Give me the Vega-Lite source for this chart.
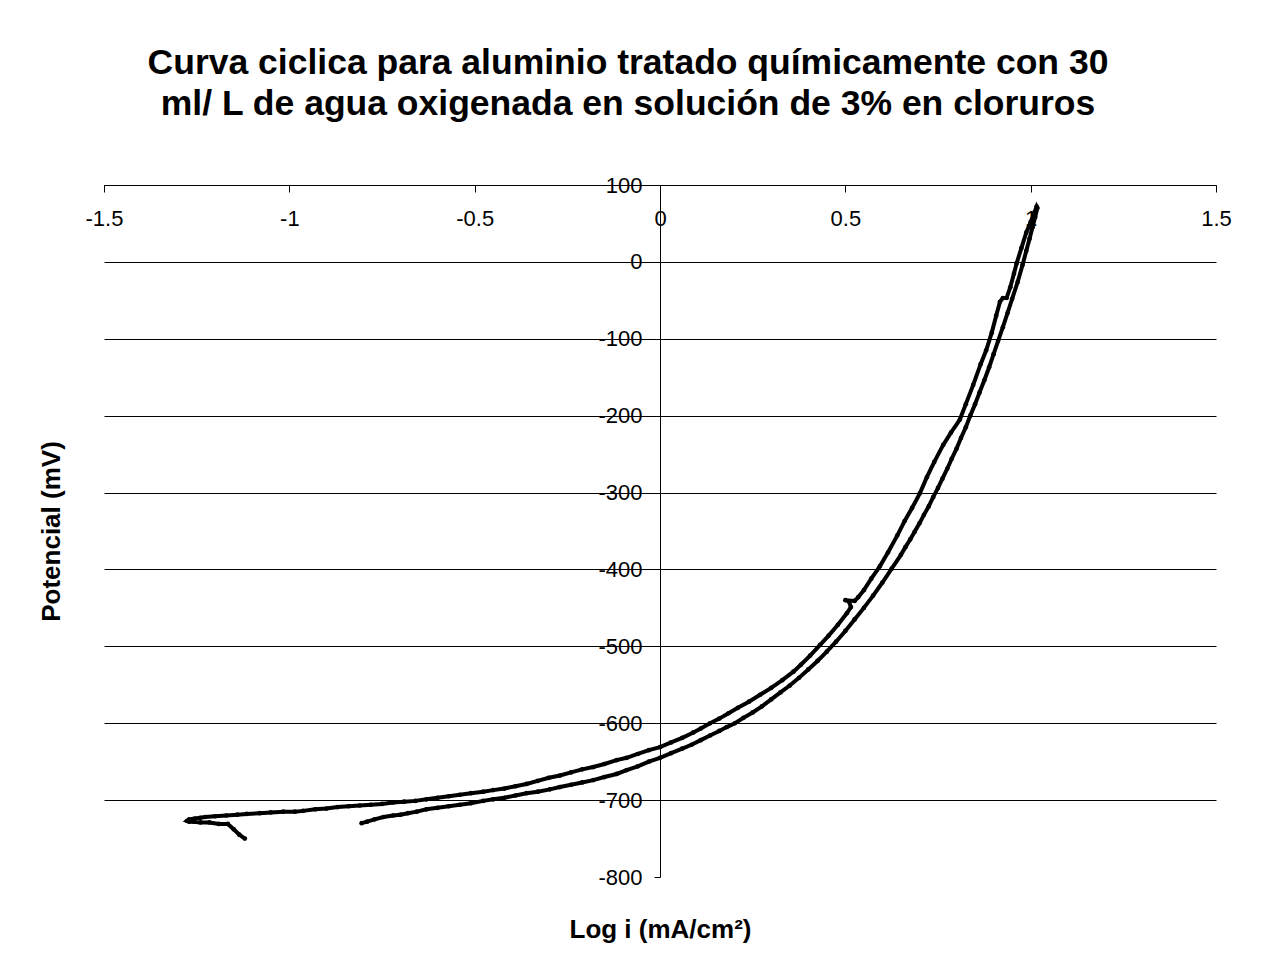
{
  "$schema": "https://vega.github.io/schema/vega-lite/v6.json",
  "autosize": {"type": "none"},
  "padding": {"left": 104, "top": 185, "right": 48, "bottom": 92},
  "width": 1112,
  "height": 692,
  "background": "white",
  "title": {
    "text": ["Curva ciclica para aluminio tratado químicamente con 30", "ml/ L de agua oxigenada en solución de 3% en cloruros"],
    "font": "Liberation Sans",
    "fontSize": 35.5,
    "fontWeight": "bold",
    "color": "black",
    "lineHeight": 41,
    "anchor": "middle",
    "frame": "group",
    "dx": -32,
    "offset": 52
  },
  "config": {
    "view": {"stroke": null},
    "axis": {"labelFont": "Liberation Sans", "titleFont": "Liberation Sans", "labelColor": "black", "titleColor": "black"}
  },
  "data": {"values": [
    {"i":1,"x":-1.12,"y":-750},{"i":2,"x":-1.135,"y":-745},{"i":3,"x":-1.15,"y":-738},{"i":4,"x":-1.166,"y":-731},
    {"i":5,"x":-1.19,"y":-731},{"i":6,"x":-1.216,"y":-729},{"i":7,"x":-1.24,"y":-729},{"i":8,"x":-1.258,"y":-728},
    {"i":9,"x":-1.27,"y":-728},{"i":10,"x":-1.276,"y":-727},{"i":11,"x":-1.27,"y":-725},{"i":12,"x":-1.255,"y":-724},
    {"i":13,"x":-1.24,"y":-723},{"i":14,"x":-1.227,"y":-722},{"i":15,"x":-1.2,"y":-721},{"i":16,"x":-1.17,"y":-720},
    {"i":17,"x":-1.14,"y":-719},{"i":18,"x":-1.115,"y":-718},{"i":19,"x":-1.08,"y":-717},{"i":20,"x":-1.05,"y":-716},
    {"i":21,"x":-1.016,"y":-715},{"i":22,"x":-0.985,"y":-715},{"i":23,"x":-0.963,"y":-714},{"i":24,"x":-0.93,"y":-712},
    {"i":25,"x":-0.9,"y":-711},{"i":26,"x":-0.87,"y":-709},{"i":27,"x":-0.84,"y":-708},{"i":28,"x":-0.81,"y":-707},
    {"i":29,"x":-0.78,"y":-706},{"i":30,"x":-0.75,"y":-705},{"i":31,"x":-0.72,"y":-703},{"i":32,"x":-0.69,"y":-702},
    {"i":33,"x":-0.66,"y":-701},{"i":34,"x":-0.63,"y":-699},{"i":35,"x":-0.6,"y":-697},{"i":36,"x":-0.57,"y":-695},
    {"i":37,"x":-0.54,"y":-693},{"i":38,"x":-0.51,"y":-691},{"i":39,"x":-0.477,"y":-689},{"i":40,"x":-0.45,"y":-687},
    {"i":41,"x":-0.42,"y":-685},{"i":42,"x":-0.39,"y":-682},{"i":43,"x":-0.36,"y":-679},{"i":44,"x":-0.33,"y":-675},
    {"i":45,"x":-0.3,"y":-671},{"i":46,"x":-0.27,"y":-668},{"i":47,"x":-0.24,"y":-664},{"i":48,"x":-0.21,"y":-660},
    {"i":49,"x":-0.18,"y":-657},{"i":50,"x":-0.15,"y":-653},{"i":51,"x":-0.117,"y":-648},{"i":52,"x":-0.09,"y":-645},
    {"i":53,"x":-0.06,"y":-640},{"i":54,"x":-0.03,"y":-635},{"i":55,"x":0.0,"y":-631},{"i":56,"x":0.03,"y":-625},
    {"i":57,"x":0.06,"y":-619},{"i":58,"x":0.09,"y":-612},{"i":59,"x":0.11,"y":-607},{"i":60,"x":0.135,"y":-600},
    {"i":61,"x":0.16,"y":-594},{"i":62,"x":0.185,"y":-587},{"i":63,"x":0.21,"y":-580},{"i":64,"x":0.24,"y":-572},
    {"i":65,"x":0.27,"y":-563},{"i":66,"x":0.3,"y":-554},{"i":67,"x":0.33,"y":-544},{"i":68,"x":0.36,"y":-533},
    {"i":69,"x":0.38,"y":-524},{"i":70,"x":0.405,"y":-512},{"i":71,"x":0.432,"y":-498},{"i":72,"x":0.455,"y":-486},
    {"i":73,"x":0.48,"y":-472},{"i":74,"x":0.504,"y":-457},{"i":75,"x":0.515,"y":-449},{"i":76,"x":0.51,"y":-442},
    {"i":77,"x":0.5,"y":-440},{"i":78,"x":0.525,"y":-441},{"i":79,"x":0.535,"y":-436},{"i":80,"x":0.55,"y":-427},
    {"i":81,"x":0.57,"y":-412},{"i":82,"x":0.593,"y":-396},{"i":83,"x":0.615,"y":-378},{"i":84,"x":0.64,"y":-356},
    {"i":85,"x":0.66,"y":-337},{"i":86,"x":0.68,"y":-320},{"i":87,"x":0.701,"y":-301},{"i":88,"x":0.72,"y":-280},
    {"i":89,"x":0.74,"y":-260},{"i":90,"x":0.764,"y":-238},{"i":91,"x":0.785,"y":-222},{"i":92,"x":0.809,"y":-205},
    {"i":93,"x":0.825,"y":-185},{"i":94,"x":0.845,"y":-160},{"i":95,"x":0.865,"y":-133},{"i":96,"x":0.88,"y":-115},
    {"i":97,"x":0.895,"y":-92},{"i":98,"x":0.907,"y":-70},{"i":99,"x":0.917,"y":-52},{"i":100,"x":0.925,"y":-47},
    {"i":101,"x":0.935,"y":-47},{"i":102,"x":0.945,"y":-33},{"i":103,"x":0.955,"y":-15},{"i":104,"x":0.962,"y":-2},
    {"i":105,"x":0.975,"y":18},{"i":106,"x":0.988,"y":38},{"i":107,"x":1.0,"y":52},{"i":108,"x":1.01,"y":64},
    {"i":109,"x":1.016,"y":72},{"i":110,"x":1.018,"y":70},{"i":111,"x":1.012,"y":58},{"i":112,"x":1.005,"y":45},
    {"i":113,"x":0.997,"y":30},{"i":114,"x":0.988,"y":14},{"i":115,"x":0.978,"y":-4},{"i":116,"x":0.965,"y":-26},
    {"i":117,"x":0.95,"y":-48},{"i":118,"x":0.938,"y":-66},{"i":119,"x":0.925,"y":-85},{"i":120,"x":0.912,"y":-103},
    {"i":121,"x":0.9,"y":-120},{"i":122,"x":0.888,"y":-137},{"i":123,"x":0.875,"y":-154},{"i":124,"x":0.862,"y":-170},
    {"i":125,"x":0.85,"y":-185},{"i":126,"x":0.837,"y":-200},{"i":127,"x":0.825,"y":-215},{"i":128,"x":0.812,"y":-229},
    {"i":129,"x":0.8,"y":-243},{"i":130,"x":0.787,"y":-256},{"i":131,"x":0.775,"y":-269},{"i":132,"x":0.762,"y":-282},
    {"i":133,"x":0.75,"y":-294},{"i":134,"x":0.737,"y":-306},{"i":135,"x":0.725,"y":-318},{"i":136,"x":0.712,"y":-329},
    {"i":137,"x":0.7,"y":-340},{"i":138,"x":0.687,"y":-351},{"i":139,"x":0.675,"y":-361},{"i":140,"x":0.662,"y":-371},
    {"i":141,"x":0.65,"y":-381},{"i":142,"x":0.625,"y":-399},{"i":143,"x":0.6,"y":-417},{"i":144,"x":0.575,"y":-434},
    {"i":145,"x":0.55,"y":-450},{"i":146,"x":0.525,"y":-465},{"i":147,"x":0.5,"y":-480},{"i":148,"x":0.475,"y":-494},
    {"i":149,"x":0.45,"y":-507},{"i":150,"x":0.425,"y":-519},{"i":151,"x":0.4,"y":-530},{"i":152,"x":0.375,"y":-541},
    {"i":153,"x":0.35,"y":-551},{"i":154,"x":0.325,"y":-560},{"i":155,"x":0.3,"y":-569},{"i":156,"x":0.275,"y":-578},
    {"i":157,"x":0.25,"y":-586},{"i":158,"x":0.225,"y":-593},{"i":159,"x":0.202,"y":-600},{"i":160,"x":0.18,"y":-605},
    {"i":161,"x":0.16,"y":-610},{"i":162,"x":0.135,"y":-616},{"i":163,"x":0.11,"y":-622},{"i":164,"x":0.085,"y":-628},
    {"i":165,"x":0.06,"y":-633},{"i":166,"x":0.03,"y":-639},{"i":167,"x":0.0,"y":-645},
    {"i":168,"x":-0.03,"y":-650},{"i":169,"x":-0.06,"y":-656},{"i":170,"x":-0.09,"y":-661},{"i":171,"x":-0.117,"y":-666},
    {"i":172,"x":-0.15,"y":-670},{"i":173,"x":-0.18,"y":-674},{"i":174,"x":-0.21,"y":-677},{"i":175,"x":-0.24,"y":-680},
    {"i":176,"x":-0.27,"y":-683},{"i":177,"x":-0.297,"y":-686},{"i":178,"x":-0.33,"y":-689},{"i":179,"x":-0.36,"y":-691},
    {"i":180,"x":-0.39,"y":-694},{"i":181,"x":-0.42,"y":-697},{"i":182,"x":-0.45,"y":-699},{"i":183,"x":-0.477,"y":-701},
    {"i":184,"x":-0.51,"y":-704},{"i":185,"x":-0.54,"y":-706},{"i":186,"x":-0.57,"y":-708},{"i":187,"x":-0.6,"y":-710},
    {"i":188,"x":-0.63,"y":-712},{"i":189,"x":-0.656,"y":-715},{"i":190,"x":-0.68,"y":-717},{"i":191,"x":-0.7,"y":-719},
    {"i":192,"x":-0.72,"y":-720},{"i":193,"x":-0.746,"y":-722},{"i":194,"x":-0.77,"y":-725},{"i":195,"x":-0.79,"y":-728},
    {"i":196,"x":-0.805,"y":-730}
  ]},
  "mark": {"type": "line", "color": "black", "strokeWidth": 4, "point": {"filled": true, "size": 22, "color": "black"}},
  "encoding": {
    "order": {"field": "i", "type": "quantitative"},
    "x": {
      "field": "x", "type": "quantitative",
      "scale": {"domain": [-1.5, 1.5], "nice": false, "zero": false},
      "axis": {
        "orient": "bottom", "offset": -692,
        "values": [-1.5, -1, -0.5, 0, 0.5, 1, 1.5],
        "labelExpr": "'' + datum.value",
        "grid": false,
        "domainColor": "black", "domainWidth": 1,
        "tickColor": "black", "tickSize": 7, "tickWidth": 1,
        "labelFontSize": 22, "labelPadding": 16, "labelFlush": false, "labelOverlap": false,
        "title": "Log i (mA/cm²)", "titleFontSize": 26, "titleFontWeight": "bold",
        "titleX": 556, "titleY": 744, "titleBaseline": "middle", "titleAlign": "center"
      }
    },
    "y": {
      "field": "y", "type": "quantitative",
      "scale": {"domain": [-800, 100], "nice": false, "zero": false},
      "axis": {
        "orient": "left", "offset": -556,
        "values": [-800, -700, -600, -500, -400, -300, -200, -100, 0, 100],
        "labelExpr": "'' + datum.value",
        "grid": true, "gridColor": "black", "gridWidth": 1,
        "gridOpacity": {"condition": {"test": "datum.value === -800", "value": 0}, "value": 1},
        "domainColor": "black", "domainWidth": 1,
        "tickColor": "black", "tickSize": 6, "tickWidth": 1,
        "labelFontSize": 22, "labelPadding": 12, "labelFlush": false, "labelOverlap": false,
        "title": "Potencial (mV)", "titleFontSize": 26, "titleFontWeight": "bold",
        "titleX": -609, "titleY": 346, "titleBaseline": "middle", "titleAlign": "center", "titleAngle": -90
      }
    }
  }
}
